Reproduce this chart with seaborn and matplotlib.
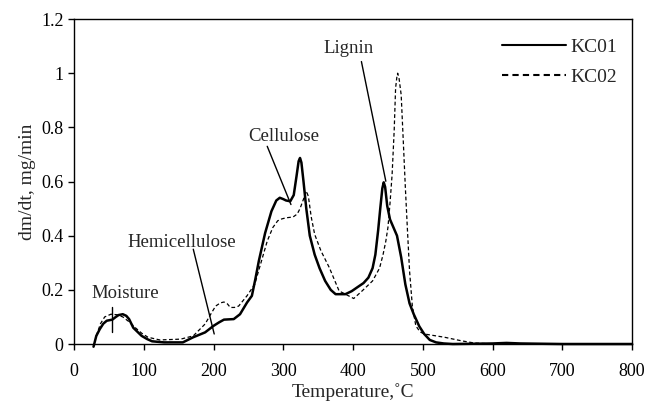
import numpy as np
import pandas as pd
import matplotlib
matplotlib.use("Agg")
import matplotlib.pyplot as plt
import seaborn as sns

# DTG curves
kc01_t = [28, 32, 37, 42, 47, 55, 60, 64, 70, 75, 79, 85, 91, 97, 105, 112, 129,
          156, 171, 188, 200, 208, 215, 229, 238, 248, 255, 260, 265, 274, 283,
          290, 295, 300, 304, 310, 315, 319, 322, 324, 326, 329, 333, 338, 345,
          352, 360, 368, 375, 389, 398, 407, 415, 422, 428, 432, 436, 439, 442,
          444, 446, 449, 453, 458, 463, 469, 475, 481, 487, 495, 502, 510, 519,
          530, 543, 600, 620, 640, 700, 800]
kc01_v = [-0.01, 0.03, 0.055, 0.075, 0.086, 0.09, 0.1, 0.107, 0.11, 0.104, 0.092,
          0.06, 0.045, 0.03, 0.018, 0.01, 0.006, 0.006, 0.025, 0.043, 0.067,
          0.08, 0.09, 0.092, 0.11, 0.153, 0.178, 0.24, 0.307, 0.41, 0.49, 0.53,
          0.54, 0.535, 0.53, 0.527, 0.55, 0.62, 0.675, 0.687, 0.67, 0.6, 0.5,
          0.40, 0.33, 0.28, 0.233, 0.2, 0.184, 0.184, 0.195, 0.211, 0.225, 0.245,
          0.28, 0.33, 0.42, 0.5, 0.575, 0.597, 0.58, 0.51, 0.46, 0.43, 0.40,
          0.32, 0.22, 0.15, 0.11, 0.065, 0.037, 0.015, 0.006, 0.002, 0.0, 0.002,
          0.004, 0.002, 0.0, 0.0]

kc02_t = [32, 38, 44, 53, 62, 70, 80, 88, 97, 106, 123, 153, 171, 188, 196, 203,
          210, 215, 220, 224, 230, 236, 248, 259, 268, 277, 285, 292, 298, 304,
          314, 320, 324, 329, 333, 336, 340, 345, 354, 366, 380, 389, 401, 413,
          428, 438, 443, 447, 450, 453, 456, 459, 461, 463, 464, 466, 469, 472,
          475, 478, 481, 485, 490, 496, 502, 531, 555, 573, 602, 700, 800]
kc02_v = [0.03, 0.075, 0.1, 0.11, 0.108, 0.1, 0.08, 0.06, 0.04, 0.025, 0.015,
          0.018, 0.03, 0.074, 0.11, 0.14, 0.152, 0.155, 0.148, 0.135, 0.135, 0.14,
          0.178, 0.22, 0.3, 0.38, 0.43, 0.455, 0.462, 0.466, 0.469, 0.48, 0.5,
          0.535, 0.565, 0.545, 0.47, 0.405, 0.344, 0.282, 0.196, 0.184, 0.168,
          0.196, 0.233, 0.28, 0.33, 0.38, 0.43, 0.52, 0.626, 0.79, 0.945, 0.99,
          1.0, 0.98, 0.92, 0.75, 0.577, 0.42, 0.27, 0.14, 0.067, 0.045, 0.037,
          0.025, 0.012, 0.004, 0.0, 0.0, 0.0]

x_ticks = [0, 100, 200, 300, 400, 500, 600, 700, 800]
y_ticks = [0, 0.2, 0.4, 0.6, 0.8, 1.0, 1.2]
y_labels = ["0", "0.2", "0.4", "0.6", "0.8", "1", "1.2"]

# label text, text position, line start, line end
notes = [
    ("Moisture", (74, 0.188), (54, 0.137), (54, 0.043)),
    ("Hemicellulose", (155, 0.374), (171, 0.35), (201, 0.037)),
    ("Cellulose", (301, 0.767), (277, 0.73), (311, 0.515)),
    ("Lignin", (393, 1.092), (412, 1.043), (447, 0.601)),
]

df = pd.concat([
    pd.DataFrame({"t": kc01_t, "v": kc01_v, "s": "KC01"}),
    pd.DataFrame({"t": kc02_t, "v": kc02_v, "s": "KC02"}),
])

sns.set_theme(style="ticks")
plt.rcParams["font.family"] = ["Liberation Serif", "DejaVu Serif"]

fig = plt.figure(figsize=(6.45, 4.05), dpi=100)
ax = fig.add_axes([0.1147, 0.1506, 0.8653, 0.8024])

sns.lineplot(data=df, x="t", y="v", hue="s", style="s",
             palette={"KC01": "black", "KC02": "black"},
             dashes={"KC01": "", "KC02": (3, 2)},
             sort=False, estimator=None, ax=ax)
for ln, lw in zip(ax.lines, [1.8, 0.9]):
    ln.set_linewidth(lw)
    ln.set_clip_on(False)
    ln.set_solid_joinstyle("round")
    ln.set_dash_joinstyle("round")

for txt, pos, p0, p1 in notes:
    ax.text(pos[0], pos[1], txt, ha="center", va="center", fontsize=13.5)
    ax.plot([p0[0], p1[0]], [p0[1], p1[1]], color="black", lw=1.0)

ax.set_xlim(0, 800)
ax.set_ylim(0, 1.2)
ax.set_xticks(x_ticks)
ax.set_yticks(y_ticks)
ax.set_yticklabels(y_labels)
ax.tick_params(labelsize=13, direction="out", length=4, width=1, colors="black")
ax.tick_params(axis="x", pad=10)
ax.set_xlabel("Temperature,˚C", fontsize=14, labelpad=2)
ax.set_ylabel("dm/dt, mg/min", fontsize=14)
for sp in ax.spines.values():
    sp.set_color("black")
    sp.set_linewidth(1.0)

h, l = ax.get_legend_handles_labels()
ax.legend(h, l, loc="upper right", frameon=False, fontsize=14,
          handlelength=3.3, handletextpad=0.25, labelspacing=0.65,
          bbox_to_anchor=(1.005, 0.995))

fig.savefig("out.png", dpi=100)
